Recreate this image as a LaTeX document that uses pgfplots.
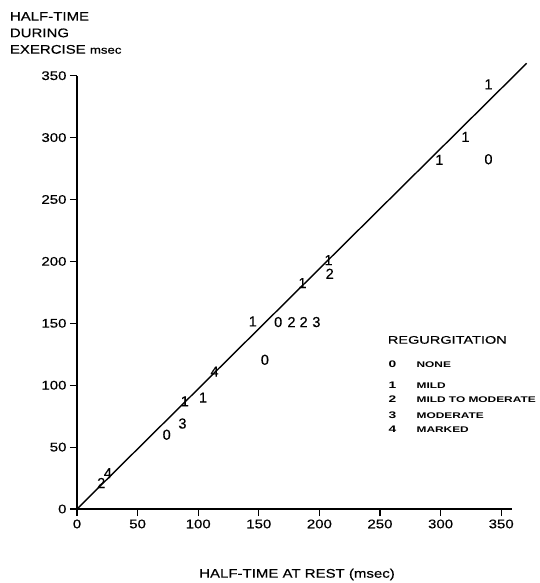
\documentclass[border=0pt]{standalone}
\usepackage{fontspec}
\setmainfont{Liberation Sans}[FakeStretch=1.2, FakeBold=0.4]
\newfontfamily\datafont{Liberation Sans}[FakeBold=0.4]
\newfontfamily\legfont{Liberation Sans}[FakeStretch=1.45]
\newfontfamily\keyfont{Liberation Sans}[FakeStretch=1.32, FakeBold=0.4]
\usepackage{pgfplots}
\usepackage{pgfplotstable}
\pgfplotsset{compat=1.18}

% half-time at rest (x), during exercise (y), regurgitation grade (label)
\pgfplotstableread{
x     y     g
20    21    2
25.5  29    4
74    60    0
87    69    3
89    87    1
104   90    1
113.5 111   4
155   120.5 0
145   151.5 1
166   151   0
177   151   2
187   151   2
197.5 151   3
186   182.5 1
207.5 201   1
208.5 190   2
299   282   1
320.5 300.5 1
339.5 282.5 0
339.5 343   1
}\halftimes

\begin{document}
\begin{tikzpicture}
\path[use as bounding box] (-77pt,-74pt) rectangle (462pt,509pt);
\begin{axis}[
  at={(0,0)}, anchor=origin,
  x=1.212pt, y=1.238pt,
  xmin=0, xmax=359, ymin=0, ymax=350,
  axis x line=bottom, axis y line=left,
  axis line style={-, line width=1.5pt},
  xtick={0,50,...,350}, ytick={0,50,...,350},
  tick align=outside, major tick length=7pt,
  tick style={line width=1.1pt, black},
  ticklabel style={font=\fontsize{12.5}{14}\selectfont},
  /pgf/number format/assume math mode=true,
  clip=false,
]
% line of identity
\addplot[black, line width=1.4pt] coordinates {(0,0) (371,360)};
% points drawn as their regurgitation grade
\addplot[only marks, mark=none, point meta=explicit symbolic,
  nodes near coords,
  every node near coord/.append style={anchor=center, inner sep=0pt,
    font=\datafont\fontsize{14.5}{16}\selectfont}]
  table[x=x, y=y, meta=g] {\halftimes};
\end{axis}
% y-axis title
\begin{scope}[every node/.style={anchor=base west, inner sep=0pt, font=\fontsize{12.5}{14}\selectfont}]
\node at (-67.3pt,488.3pt) {HALF-TIME};
\node at (-67.3pt,471.8pt) {DURING};
\node at (-67.3pt,455.3pt) {EXERCISE {\fontsize{11}{12}\selectfont msec}};
\end{scope}
% x-axis title
\node[anchor=base, inner sep=0pt, font=\fontsize{12.5}{14}\selectfont] at (220pt,-68.7pt) {HALF-TIME AT REST (msec)};
% key to the grades
\node[anchor=base west, inner sep=0pt, font=\keyfont\fontsize{11}{12}\selectfont] at (310.7pt,165.3pt) {REGURGITATION};
\begin{scope}[every node/.style={inner sep=0pt, font=\legfont\bfseries\fontsize{8.2}{9}\selectfont}]
\foreach \yy/\d/\t in {141.6/0/NONE, 120.3/1/MILD, 106.6/2/MILD TO MODERATE, 90.6/3/MODERATE, 76.6/4/MARKED}{
  \node[anchor=base, font=\legfont\bfseries\fontsize{9.5}{10}\selectfont] at (315.4pt,\yy pt) {\d};
  \node[anchor=base west] at (339.4pt,\yy pt) {\t};
}
\end{scope}
\end{tikzpicture}
\end{document}
